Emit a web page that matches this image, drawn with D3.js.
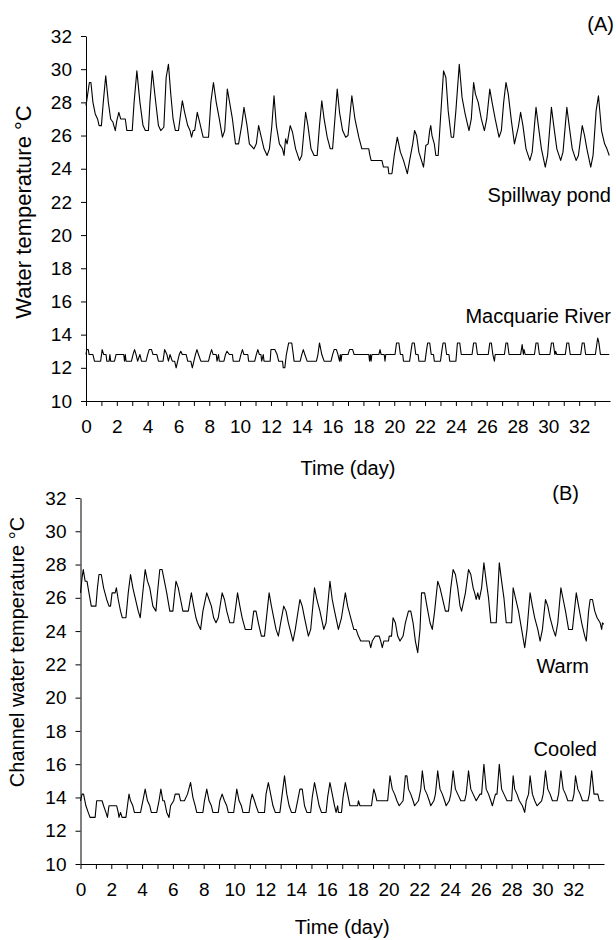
<!DOCTYPE html>
<html>
<head>
<meta charset="utf-8">
<script src="https://cdn.jsdelivr.net/npm/d3@7"></script>
<style>
  html, body { margin: 0; padding: 0; background: #fff; }
  svg { display: block; }
  text { font-family: "Liberation Sans", Arial, sans-serif; fill: #000; }
</style>
</head>
<body>
<svg id="chart" width="616" height="940"></svg>
<script>
// Logged water temperatures, [day, °C] pairs at each turning point of the daily cycle.
const spillwayPond = [
  [0.00,27.8],[0.22,29.2],[0.32,29.2],[0.45,28.0],[0.6,27.3],[0.75,27.0],[0.85,26.6],[1.0,26.6],[1.12,28.0],[1.28,29.6],
  [1.45,28.0],[1.6,27.0],[1.75,26.8],[1.9,26.3],[2.0,26.9],[2.13,27.4],[2.25,27.0],[2.55,27.0],[2.65,26.3],[3.0,26.3],
  [3.12,28.0],[3.3,29.9],[3.5,28.0],[3.7,26.6],[3.85,26.3],[4.05,26.3],[4.15,28.0],[4.3,29.9],[4.5,28.2],[4.7,26.6],
  [4.85,26.3],[5.05,26.5],[5.2,29.5],[5.35,30.3],[5.5,28.5],[5.65,27.0],[5.8,26.3],[6.0,26.3],[6.25,28.1],[6.4,27.4],
  [6.6,26.6],[6.75,26.3],[6.85,25.9],[6.95,26.3],[7.05,26.3],[7.22,27.4],[7.35,26.9],[7.5,26.3],[7.6,25.9],[7.95,25.9],
  [8.1,28.0],[8.27,29.2],[8.45,28.0],[8.65,27.0],[8.85,25.9],[9.0,26.3],[9.17,28.8],[9.3,28.1],[9.5,27.0],[9.7,25.5],
  [9.9,25.5],[10.1,26.6],[10.25,27.7],[10.45,26.6],[10.6,25.5],[10.9,25.2],[11.05,25.5],[11.2,26.6],[11.35,26.0],[11.55,25.2],
  [11.75,24.8],[11.9,25.2],[12.05,26.5],[12.2,28.4],[12.35,26.6],[12.55,25.5],[12.75,25.2],[12.85,24.8],[12.95,25.8],[13.05,25.5],
  [13.25,26.6],[13.4,26.2],[13.6,25.2],[13.85,24.5],[14.0,24.8],[14.25,27.4],[14.4,26.6],[14.6,25.2],[14.8,24.8],[15.0,24.8],
  [15.15,26.6],[15.3,28.1],[15.45,27.0],[15.65,25.9],[15.85,25.2],[16.0,25.2],[16.15,27.0],[16.3,28.8],[16.45,27.4],[16.65,26.3],
  [16.85,25.9],[17.0,26.0],[17.25,28.4],[17.45,27.0],[17.7,25.9],[17.9,25.2],[18.35,25.2],[18.4,24.9],[18.5,24.5],[19.2,24.5],
  [19.3,24.1],[19.6,24.1],[19.65,23.7],[19.85,23.7],[20.0,24.8],[20.2,25.9],[20.4,25.0],[20.6,24.5],[20.85,23.7],[21.0,24.5],
  [21.2,25.5],[21.32,26.3],[21.45,26.0],[21.6,25.0],[21.9,24.1],[22.05,25.4],[22.2,25.5],[22.3,26.3],[22.37,26.6],[22.45,26.0],
  [22.6,25.5],[22.7,24.8],[22.85,24.8],[23.0,27.0],[23.2,29.9],[23.35,29.5],[23.5,27.5],[23.7,25.9],[23.85,25.9],[24.0,27.5],
  [24.22,30.3],[24.4,28.3],[24.6,27.3],[24.85,26.3],[25.0,27.0],[25.15,29.2],[25.27,28.5],[25.45,28.0],[25.65,27.0],[25.85,26.3],
  [26.0,27.0],[26.2,28.8],[26.35,28.0],[26.55,27.0],[26.8,25.9],[26.95,26.3],[27.1,28.0],[27.25,29.2],[27.4,28.5],[27.6,26.9],
  [27.8,25.5],[27.9,25.9],[28.05,26.5],[28.2,27.4],[28.35,26.6],[28.55,25.2],[28.8,24.5],[28.95,25.0],[29.2,27.7],[29.35,26.6],
  [29.55,25.2],[29.8,24.1],[29.95,24.8],[30.2,27.7],[30.35,26.6],[30.55,25.2],[30.8,24.5],[30.95,25.0],[31.2,27.7],[31.35,26.6],
  [31.55,25.2],[31.8,24.5],[31.95,24.8],[32.2,26.6],[32.35,26.0],[32.5,25.2],[32.75,24.1],[32.9,24.8],[33.1,27.5],[33.25,28.4],
  [33.45,26.3],[33.65,25.5],[33.8,25.2],[33.95,24.8]
];

const macquarieRiver = [
  [0.0,12.8],[0.05,13.1],[0.15,13.1],[0.2,12.8],[0.45,12.8],[0.55,12.4],[0.95,12.4],[1.05,13.1],[1.15,12.8],[1.3,12.8],
  [1.35,12.4],[1.5,12.4],[1.55,12.8],[1.6,12.4],[1.85,12.4],[1.95,12.8],[2.45,12.8],[2.5,12.4],[2.55,12.8],[2.6,12.4],
  [2.95,12.4],[3.05,12.8],[3.15,13.1],[3.25,12.8],[3.35,12.4],[3.5,12.8],[3.6,12.4],[3.9,12.4],[4.0,12.8],[4.1,13.1],
  [4.25,13.1],[4.35,12.8],[4.6,12.8],[4.7,12.4],[5.0,12.4],[5.1,13.1],[5.25,12.8],[5.35,12.4],[5.45,12.8],[5.6,12.4],
  [5.75,12.4],[5.85,12.0],[5.95,12.4],[6.05,12.8],[6.15,13.0],[6.25,12.8],[6.5,12.8],[6.6,12.4],[6.8,12.4],[6.9,12.0],
  [7.0,12.4],[7.1,12.8],[7.2,13.1],[7.3,12.8],[7.45,12.4],[7.95,12.4],[8.05,12.8],[8.15,13.1],[8.25,12.8],[8.45,12.8],
  [8.5,12.4],[8.6,12.8],[8.65,12.4],[8.95,12.4],[9.05,12.8],[9.15,13.0],[9.3,12.8],[9.5,12.8],[9.55,12.4],[9.95,12.4],
  [10.05,12.8],[10.15,13.1],[10.25,12.8],[10.5,12.8],[10.55,12.4],[10.95,12.4],[11.05,12.8],[11.15,13.1],[11.25,12.8],[11.35,12.8],
  [11.4,12.4],[11.5,12.8],[11.55,12.4],[11.95,12.4],[12.0,13.1],[12.25,13.1],[12.4,12.8],[12.5,12.4],[12.75,12.4],[12.8,12.0],
  [12.9,12.0],[13.0,12.8],[13.15,13.5],[13.35,13.5],[13.45,12.8],[13.5,12.4],[13.9,12.4],[14.0,12.8],[14.1,13.1],[14.2,12.8],
  [14.35,12.4],[14.95,12.4],[15.05,12.8],[15.15,13.5],[15.3,12.8],[15.45,12.4],[15.9,12.4],[16.0,12.8],[16.1,13.1],[16.25,13.1],
  [16.35,12.8],[16.45,12.4],[16.5,12.8],[16.55,12.4],[16.6,12.8],[17.0,12.8],[17.1,13.1],[17.3,13.1],[17.4,12.8],[18.35,12.8],
  [18.4,12.4],[18.45,12.8],[18.5,12.4],[18.55,12.8],[19.0,12.8],[19.08,13.1],[19.15,12.8],[19.35,12.8],[19.4,12.4],[19.45,12.8],
  [20.05,12.8],[20.15,13.5],[20.3,13.5],[20.4,12.8],[20.55,12.8],[20.6,12.4],[21.0,12.4],[21.1,13.1],[21.17,13.5],[21.3,13.5],
  [21.4,12.8],[21.55,12.8],[21.6,12.4],[22.0,12.4],[22.1,13.1],[22.17,13.5],[22.3,13.5],[22.4,12.8],[22.55,12.8],[22.6,12.4],
  [23.0,12.4],[23.1,13.1],[23.17,13.5],[23.3,13.5],[23.4,12.8],[23.55,12.8],[23.6,12.4],[24.0,12.4],[24.1,13.5],[24.25,13.5],
  [24.35,12.8],[25.05,12.8],[25.15,13.5],[25.3,13.5],[25.4,12.8],[26.1,12.8],[26.2,13.5],[26.3,13.5],[26.4,12.8],[26.5,12.4],
  [26.55,12.8],[27.15,12.8],[27.25,13.5],[27.35,13.5],[27.45,12.8],[28.2,12.8],[28.3,13.4],[28.38,12.8],[28.42,13.1],[28.5,12.8],
  [29.1,12.8],[29.2,13.5],[29.32,13.5],[29.42,12.8],[30.1,12.8],[30.2,13.5],[30.32,13.5],[30.42,12.8],[30.47,13.0],[30.55,12.8],
  [31.1,12.8],[31.2,13.5],[31.32,13.5],[31.42,12.8],[32.1,12.8],[32.2,13.5],[32.32,13.5],[32.42,12.8],[33.05,12.8],[33.2,13.8],
  [33.28,13.5],[33.38,12.8],[33.95,12.8]
];

const warmChannel = [
  [0.0,26.3],[0.1,27.2],[0.18,27.7],[0.3,27.0],[0.42,27.0],[0.55,26.3],[0.7,25.5],[1.0,25.5],[1.1,26.6],[1.2,27.4],
  [1.35,27.4],[1.5,26.6],[1.7,25.9],[1.85,25.5],[1.95,25.5],[2.05,26.3],[2.25,26.3],[2.33,26.6],[2.45,25.9],[2.6,25.2],
  [2.72,24.8],[2.95,24.8],[3.1,26.3],[3.25,27.4],[3.4,26.6],[3.55,26.0],[3.75,25.2],[3.88,24.8],[4.0,25.9],[4.2,27.7],
  [4.35,27.0],[4.5,26.6],[4.7,25.5],[4.9,25.2],[5.0,26.3],[5.15,27.7],[5.3,27.7],[5.45,27.0],[5.6,26.3],[5.8,25.2],
  [6.0,25.2],[6.2,27.0],[6.35,26.6],[6.5,25.9],[6.65,25.2],[7.0,25.2],[7.2,26.3],[7.35,25.5],[7.5,24.8],[7.6,24.5],
  [7.8,24.1],[7.95,25.2],[8.2,26.3],[8.35,25.9],[8.5,25.5],[8.65,24.8],[8.8,24.5],[8.95,24.8],[9.2,26.3],[9.35,25.9],
  [9.5,25.2],[9.7,24.5],[9.95,24.5],[10.2,26.3],[10.35,25.5],[10.5,24.8],[10.7,24.1],[11.1,24.1],[11.25,25.2],[11.4,25.2],
  [11.55,24.5],[11.75,23.7],[11.95,23.7],[12.25,26.3],[12.4,25.5],[12.55,24.8],[12.7,24.1],[12.85,23.7],[13.0,24.5],[13.2,25.5],
  [13.35,25.2],[13.5,24.5],[13.8,23.4],[13.95,24.1],[14.25,25.9],[14.4,25.5],[14.55,24.8],[14.8,23.7],[14.95,24.1],[15.2,26.6],
  [15.35,25.9],[15.55,25.2],[15.8,24.1],[15.95,24.5],[16.2,27.0],[16.35,25.9],[16.5,25.2],[16.75,24.1],[16.95,24.8],[17.2,26.3],
  [17.35,25.5],[17.55,24.8],[17.75,24.1],[17.9,24.1],[18.05,23.7],[18.2,23.4],[18.75,23.4],[18.85,23.0],[18.95,23.4],[19.15,23.7],
  [19.4,23.7],[19.5,23.4],[19.6,23.0],[19.7,23.4],[20.0,23.4],[20.05,23.7],[20.2,23.7],[20.3,24.8],[20.45,24.5],[20.6,23.7],
  [20.75,23.4],[20.95,23.7],[21.1,24.5],[21.3,25.2],[21.45,25.2],[21.6,24.5],[21.75,23.4],[21.9,22.7],[22.05,24.1],[22.15,26.3],
  [22.35,26.3],[22.5,25.5],[22.7,24.5],[22.85,24.1],[23.0,25.2],[23.2,27.0],[23.35,26.6],[23.5,26.0],[23.7,25.2],[23.9,25.2],
  [24.05,26.6],[24.2,27.7],[24.35,27.4],[24.5,26.6],[24.65,25.5],[24.75,25.2],[25.0,26.3],[25.2,27.7],[25.35,27.4],[25.5,26.6],
  [25.6,26.3],[25.7,25.9],[25.8,26.3],[25.9,25.9],[26.05,26.6],[26.2,28.1],[26.35,27.0],[26.5,26.0],[26.65,24.5],[27.0,24.5],
  [27.2,28.1],[27.35,27.0],[27.5,26.0],[27.65,24.5],[28.0,24.5],[28.1,26.6],[28.25,26.0],[28.45,25.2],[28.65,24.1],[28.85,23.0],
  [29.0,24.1],[29.2,26.3],[29.35,25.5],[29.5,24.8],[29.7,24.1],[29.85,23.4],[30.0,24.1],[30.2,25.9],[30.35,25.5],[30.5,24.8],
  [30.7,24.1],[30.85,23.7],[31.0,24.5],[31.2,26.6],[31.35,25.9],[31.5,25.2],[31.7,24.1],[31.95,24.1],[32.2,26.3],[32.35,25.5],
  [32.55,24.5],[32.75,23.7],[32.85,23.4],[33.0,25.2],[33.1,25.9],[33.25,25.9],[33.4,25.2],[33.55,24.8],[33.75,24.5],[33.85,24.1],
  [33.9,24.5],[33.98,24.4]
];

const cooledChannel = [
  [0.0,13.8],[0.1,14.2],[0.2,14.2],[0.35,13.5],[0.5,13.1],[0.62,12.8],[0.95,12.8],[1.05,13.8],[1.4,13.8],[1.5,13.5],
  [1.65,13.1],[1.75,12.8],[1.85,13.5],[2.35,13.5],[2.45,13.1],[2.5,12.8],[2.6,13.1],[2.7,12.8],[2.95,12.8],[3.05,13.5],
  [3.15,14.2],[3.25,13.8],[3.4,13.5],[3.5,13.1],[3.9,13.1],[4.05,13.8],[4.2,14.5],[4.35,13.8],[4.5,13.5],[4.6,13.1],
  [4.95,13.1],[5.1,13.8],[5.22,14.5],[5.35,13.8],[5.45,13.8],[5.6,13.1],[5.75,12.8],[5.85,13.5],[6.05,13.8],[6.15,14.2],
  [6.4,14.2],[6.5,13.8],[6.75,13.8],[6.95,14.2],[7.15,14.9],[7.3,14.0],[7.45,13.5],[7.55,13.1],[7.95,13.1],[8.05,13.8],
  [8.2,14.5],[8.35,13.8],[8.5,13.5],[8.6,13.1],[8.95,13.1],[9.05,13.8],[9.2,14.2],[9.35,13.8],[9.5,13.5],[9.6,13.1],
  [9.95,13.1],[10.05,13.8],[10.15,14.5],[10.3,13.8],[10.45,13.5],[10.55,13.1],[10.95,13.1],[11.05,13.8],[11.15,14.2],[11.3,13.8],
  [11.4,13.5],[11.55,13.1],[11.95,13.1],[12.05,14.2],[12.2,14.9],[12.35,14.2],[12.5,13.5],[12.65,13.1],[12.95,13.1],[13.1,14.2],
  [13.25,15.3],[13.4,14.2],[13.55,13.5],[13.7,13.1],[13.95,13.1],[14.1,13.8],[14.25,14.5],[14.4,14.5],[14.55,13.5],[14.7,13.1],
  [14.95,13.1],[15.05,14.0],[15.2,14.9],[15.35,14.2],[15.5,13.5],[15.65,13.1],[15.95,13.1],[16.05,14.0],[16.2,14.9],[16.35,14.2],
  [16.5,13.5],[16.6,13.1],[16.7,13.5],[16.75,13.1],[16.95,13.1],[17.05,14.0],[17.2,14.9],[17.35,14.2],[17.5,13.5],[18.0,13.5],
  [18.05,13.8],[18.15,13.5],[18.9,13.5],[19.0,14.2],[19.05,14.5],[19.15,14.2],[19.25,13.8],[19.95,13.8],[20.1,15.3],[20.25,14.5],
  [20.4,14.2],[20.55,13.8],[20.7,13.5],[20.95,13.8],[21.1,15.3],[21.2,15.3],[21.3,14.5],[21.45,14.2],[21.6,13.8],[21.7,13.5],
  [21.95,13.8],[22.1,14.5],[22.2,15.6],[22.35,14.5],[22.5,14.2],[22.65,13.8],[22.75,13.5],[22.95,13.8],[23.05,14.2],[23.2,15.6],
  [23.35,14.5],[23.5,14.2],[23.65,13.8],[23.75,13.5],[23.95,13.8],[24.05,14.2],[24.2,15.6],[24.35,14.5],[24.5,14.2],[24.7,13.8],
  [24.95,13.8],[25.05,14.2],[25.2,15.6],[25.35,14.5],[25.5,14.2],[25.7,13.8],[25.95,14.2],[26.05,14.2],[26.2,16.0],[26.35,14.5],
  [26.5,14.2],[26.65,13.8],[26.75,13.5],[26.95,14.2],[27.05,14.2],[27.2,16.0],[27.35,14.5],[27.5,14.2],[27.7,13.8],[28.0,13.8],
  [28.1,15.3],[28.2,14.5],[28.35,14.2],[28.5,13.8],[28.7,13.5],[28.85,13.1],[28.95,13.8],[29.1,14.2],[29.2,15.3],[29.35,14.2],
  [29.5,13.8],[29.65,13.5],[29.95,13.8],[30.05,14.2],[30.2,15.6],[30.35,14.5],[30.5,14.2],[30.65,13.8],[30.95,13.8],[31.05,14.2],
  [31.2,15.6],[31.35,14.5],[31.5,14.2],[31.65,13.8],[31.95,13.8],[32.05,14.2],[32.15,15.3],[32.3,14.5],[32.45,14.2],[32.6,13.8],
  [32.95,13.8],[33.05,14.2],[33.2,15.6],[33.35,14.2],[33.6,14.2],[33.7,13.8],[33.98,13.8]
];

// Axis tick values
const dayTicks = d3.range(0, 34);          // a tick for every day, labels on even days
const tempTicks = d3.range(10, 33, 2);     // 10 … 32 °C

// Panel layouts and the series each panel carries
const panels = [
  {
    left: 86, right: 610, top: 36, bottom: 401,
    tag: "(A)", tagX: 614, tagY: 31,
    yTitle: "Water temperature \u00B0C", yTitleX: 31, yTitleY: 212, yTitleSize: 22,
    xTitleY: 475,
    series: [
      { data: spillwayPond, label: "Spillway pond", lx: 611, ly: 202 },
      { data: macquarieRiver, label: "Macquarie River", lx: 611, ly: 323 }
    ]
  },
  {
    left: 80.5, right: 604, top: 498, bottom: 864,
    tag: "(B)", tagX: 579, tagY: 500,
    yTitle: "Channel water temperature \u00B0C", yTitleX: 24, yTitleY: 652, yTitleSize: 20,
    xTitleY: 934,
    series: [
      { data: warmChannel, label: "Warm", lx: 589, ly: 673 },
      { data: cooledChannel, label: "Cooled", lx: 597, ly: 756 }
    ]
  }
];

const svg = d3.select("#chart");

panels.forEach(p => {
  const x = d3.scaleLinear().domain([0, 34]).range([p.left, p.right]);
  const y = d3.scaleLinear().domain([10, 32]).range([p.bottom, p.top]);
  const g = svg.append("g");

  // y axis
  const yAxis = g.append("g")
    .attr("transform", `translate(${p.left},0)`)
    .call(d3.axisLeft(y).tickValues(tempTicks).tickSize(5).tickSizeOuter(0).tickPadding(9));
  yAxis.selectAll("text").style("font-size", "19px").attr("fill", "#000");

  // x axis
  const xAxis = g.append("g")
    .attr("transform", `translate(0,${p.bottom})`)
    .call(d3.axisBottom(x).tickValues(dayTicks).tickSize(5).tickSizeOuter(0).tickPadding(14)
      .tickFormat(d => d % 2 === 0 ? d : ""));
  xAxis.selectAll("text").style("font-size", "19px").attr("fill", "#000");

  [yAxis, xAxis].forEach(a => {
    a.select(".domain").attr("stroke", "#000").attr("stroke-width", 1);
    a.selectAll(".tick line").attr("stroke", "#000").attr("stroke-width", 1);
  });

  // temperature traces
  const line = d3.line().x(d => x(d[0])).y(d => y(d[1]));
  p.series.forEach(s => {
    g.append("path")
      .datum(s.data)
      .attr("d", line)
      .attr("fill", "none")
      .attr("stroke", "#000")
      .attr("stroke-width", 1.1)
      .attr("stroke-linejoin", "round");
    g.append("text")
      .attr("x", s.lx).attr("y", s.ly)
      .attr("text-anchor", "end")
      .style("font-size", "20px")
      .text(s.label);
  });

  // panel tag
  g.append("text")
    .attr("x", p.tagX).attr("y", p.tagY)
    .attr("text-anchor", "end")
    .style("font-size", "20px")
    .text(p.tag);

  // axis titles
  g.append("text")
    .attr("x", (p.left + p.right) / 2).attr("y", p.xTitleY)
    .attr("text-anchor", "middle")
    .style("font-size", "20px")
    .text("Time (day)");

  g.append("text")
    .attr("transform", `translate(${p.yTitleX},${p.yTitleY}) rotate(-90)`)
    .attr("text-anchor", "middle")
    .style("font-size", p.yTitleSize + "px")
    .text(p.yTitle);
});
</script>
</body>
</html>
